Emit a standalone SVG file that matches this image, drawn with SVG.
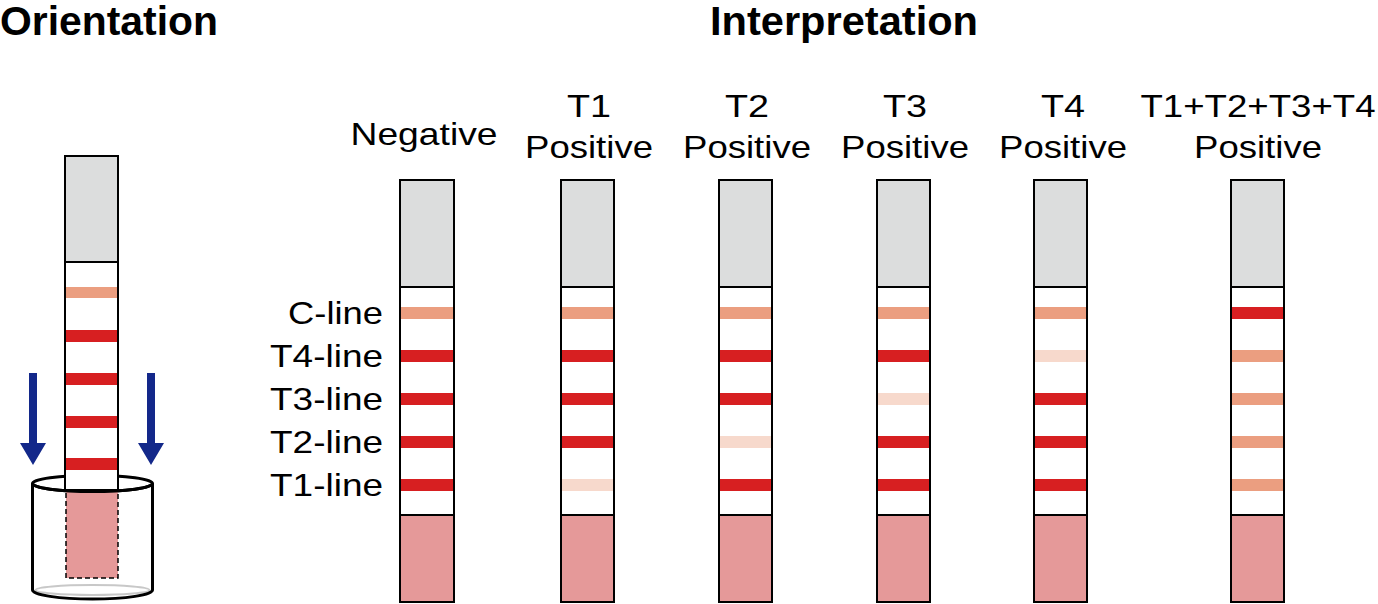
<svg xmlns="http://www.w3.org/2000/svg" width="1378" height="604" viewBox="0 0 1378 604">
<style>
text{font-family:"Liberation Sans",Arial,sans-serif;fill:#000}
.h{font-weight:bold;font-size:40px}
.t{font-size:32px;text-anchor:middle}
.lab{font-size:32px;text-anchor:end}
.gray{fill:#dcdddd;stroke:#000;stroke-width:2}
.white{fill:#fff;stroke:#000;stroke-width:2}
.pink{fill:#e59999;stroke:#000;stroke-width:2}
.s{fill:#eb9e80}
.r{fill:#d71f21}
.p{fill:#f7d9cc}
.arrow{fill:#13288a}
</style>
<text class="h" x="0" y="35" textLength="218" lengthAdjust="spacingAndGlyphs">Orientation</text>
<text class="h" x="710" y="35" textLength="268" lengthAdjust="spacingAndGlyphs">Interpretation</text>

<g id="orientation">
  <ellipse cx="92.5" cy="483.5" rx="60" ry="8" fill="none" stroke="#000" stroke-width="3"/>
  <rect x="66" y="490" width="52" height="88" fill="#e59999" stroke="#000" stroke-width="1.5" stroke-dasharray="5,3"/>
  <rect x="65" y="262" width="53" height="228" class="white"/>
  <rect x="65" y="156" width="53" height="106" class="gray"/>
  <rect x="66" y="287" width="51" height="11" class="s"/>
  <rect x="66" y="330" width="51" height="12" class="r"/>
  <rect x="66" y="373" width="51" height="12" class="r"/>
  <rect x="66" y="416" width="51" height="12" class="r"/>
  <rect x="66" y="458" width="51" height="12" class="r"/>
  <path d="M32.5 483.5 A60 8 0 0 0 152.5 483.5" fill="none" stroke="#000" stroke-width="3"/>
  <ellipse cx="92.5" cy="590" rx="57" ry="5" fill="none" stroke="#c8c8c8" stroke-width="2"/>
  <path d="M32.5 483.5 V590 A60 9 0 0 0 152.5 590 V483.5" fill="none" stroke="#000" stroke-width="3"/>
  <path class="arrow" d="M29 373 H37 V443 H46 L33 465 L20 443 H29 Z"/>
  <path class="arrow" d="M147 373 H155 V443 H164 L151 465 L138 443 H147 Z"/>
</g>

<g id="labels">
  <text class="lab" x="383" y="324" textLength="95" lengthAdjust="spacingAndGlyphs">C-line</text>
  <text class="lab" x="383" y="367" textLength="113" lengthAdjust="spacingAndGlyphs">T4-line</text>
  <text class="lab" x="383" y="410" textLength="113" lengthAdjust="spacingAndGlyphs">T3-line</text>
  <text class="lab" x="383" y="453" textLength="113" lengthAdjust="spacingAndGlyphs">T2-line</text>
  <text class="lab" x="383" y="496" textLength="113" lengthAdjust="spacingAndGlyphs">T1-line</text>
</g>

<g id="negative">
  <text class="t" x="424" y="145" textLength="147" lengthAdjust="spacingAndGlyphs">Negative</text>
  <rect x="400" y="287" width="54" height="228" class="white"/>
  <rect x="400" y="180" width="54" height="107" class="gray"/>
  <rect x="400" y="515" width="54" height="87" class="pink"/>
  <rect x="401" y="307" width="52" height="12" class="s"/>
  <rect x="401" y="350" width="52" height="12" class="r"/>
  <rect x="401" y="393" width="52" height="12" class="r"/>
  <rect x="401" y="436" width="52" height="12" class="r"/>
  <rect x="401" y="479" width="52" height="12" class="r"/>
</g>

<g id="t1">
  <text class="t" x="589" y="117" textLength="44" lengthAdjust="spacingAndGlyphs">T1</text>
  <text class="t" x="589" y="158" textLength="128" lengthAdjust="spacingAndGlyphs">Positive</text>
  <rect x="561" y="287" width="53" height="228" class="white"/>
  <rect x="561" y="180" width="53" height="107" class="gray"/>
  <rect x="561" y="515" width="53" height="87" class="pink"/>
  <rect x="562" y="307" width="51" height="12" class="s"/>
  <rect x="562" y="350" width="51" height="12" class="r"/>
  <rect x="562" y="393" width="51" height="12" class="r"/>
  <rect x="562" y="436" width="51" height="12" class="r"/>
  <rect x="562" y="479" width="51" height="12" class="p"/>
</g>

<g id="t2">
  <text class="t" x="747" y="117" textLength="44" lengthAdjust="spacingAndGlyphs">T2</text>
  <text class="t" x="747" y="158" textLength="128" lengthAdjust="spacingAndGlyphs">Positive</text>
  <rect x="719" y="287" width="53" height="228" class="white"/>
  <rect x="719" y="180" width="53" height="107" class="gray"/>
  <rect x="719" y="515" width="53" height="87" class="pink"/>
  <rect x="720" y="307" width="51" height="12" class="s"/>
  <rect x="720" y="350" width="51" height="12" class="r"/>
  <rect x="720" y="393" width="51" height="12" class="r"/>
  <rect x="720" y="436" width="51" height="12" class="p"/>
  <rect x="720" y="479" width="51" height="12" class="r"/>
</g>

<g id="t3">
  <text class="t" x="905" y="117" textLength="44" lengthAdjust="spacingAndGlyphs">T3</text>
  <text class="t" x="905" y="158" textLength="128" lengthAdjust="spacingAndGlyphs">Positive</text>
  <rect x="877" y="287" width="53" height="228" class="white"/>
  <rect x="877" y="180" width="53" height="107" class="gray"/>
  <rect x="877" y="515" width="53" height="87" class="pink"/>
  <rect x="878" y="307" width="51" height="12" class="s"/>
  <rect x="878" y="350" width="51" height="12" class="r"/>
  <rect x="878" y="393" width="51" height="12" class="p"/>
  <rect x="878" y="436" width="51" height="12" class="r"/>
  <rect x="878" y="479" width="51" height="12" class="r"/>
</g>

<g id="t4">
  <text class="t" x="1063" y="117" textLength="44" lengthAdjust="spacingAndGlyphs">T4</text>
  <text class="t" x="1063" y="158" textLength="128" lengthAdjust="spacingAndGlyphs">Positive</text>
  <rect x="1034" y="287" width="53" height="228" class="white"/>
  <rect x="1034" y="180" width="53" height="107" class="gray"/>
  <rect x="1034" y="515" width="53" height="87" class="pink"/>
  <rect x="1035" y="307" width="51" height="12" class="s"/>
  <rect x="1035" y="350" width="51" height="12" class="p"/>
  <rect x="1035" y="393" width="51" height="12" class="r"/>
  <rect x="1035" y="436" width="51" height="12" class="r"/>
  <rect x="1035" y="479" width="51" height="12" class="r"/>
</g>

<g id="all">
  <text class="t" x="1258" y="117" textLength="235" lengthAdjust="spacingAndGlyphs">T1+T2+T3+T4</text>
  <text class="t" x="1258" y="158" textLength="128" lengthAdjust="spacingAndGlyphs">Positive</text>
  <rect x="1231" y="287" width="53" height="228" class="white"/>
  <rect x="1231" y="180" width="53" height="107" class="gray"/>
  <rect x="1231" y="515" width="53" height="87" class="pink"/>
  <rect x="1232" y="307" width="51" height="12" class="r"/>
  <rect x="1232" y="350" width="51" height="12" class="s"/>
  <rect x="1232" y="393" width="51" height="12" class="s"/>
  <rect x="1232" y="436" width="51" height="12" class="s"/>
  <rect x="1232" y="479" width="51" height="12" class="s"/>
</g>
</svg>
